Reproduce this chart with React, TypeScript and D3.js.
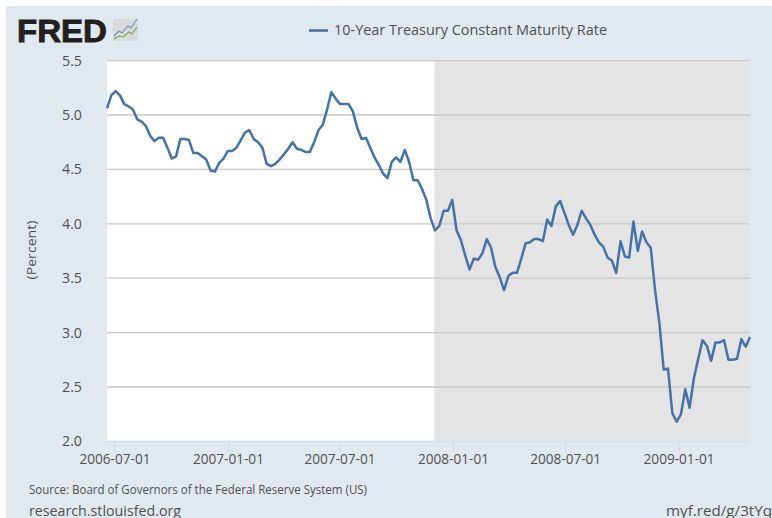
import React from "react";
import * as d3 from "d3";

const firstDate = "2006-06-18";
const rateValues = [
  5.06, 5.18, 5.22, 5.18, 5.1, 5.08, 5.05, 4.96, 4.94, 4.9,
  4.81, 4.76, 4.79, 4.79, 4.7, 4.6, 4.62, 4.78, 4.78, 4.77,
  4.65, 4.65, 4.62, 4.59, 4.49, 4.48, 4.56, 4.6, 4.67, 4.67,
  4.7, 4.77, 4.84, 4.86, 4.78, 4.75, 4.7, 4.55, 4.53, 4.55,
  4.59, 4.64, 4.69, 4.75, 4.69, 4.68, 4.66, 4.66, 4.75, 4.86,
  4.91, 5.05, 5.21, 5.15, 5.1, 5.1, 5.1, 5.03, 4.88, 4.78,
  4.79, 4.7, 4.61, 4.54, 4.46, 4.42, 4.57, 4.61, 4.57, 4.68,
  4.57, 4.4, 4.4, 4.32, 4.22, 4.05, 3.94, 3.98, 4.12, 4.12,
  4.22, 3.94, 3.85, 3.71, 3.58, 3.68, 3.67, 3.73, 3.86, 3.78,
  3.6, 3.51, 3.39, 3.52, 3.55, 3.55, 3.68, 3.82, 3.83, 3.86,
  3.86, 3.84, 4.04, 3.98, 4.16, 4.21, 4.1, 3.99, 3.9, 3.99,
  4.12, 4.05, 3.99, 3.9, 3.83, 3.79, 3.69, 3.66, 3.55, 3.84,
  3.7, 3.69, 4.02, 3.75, 3.93, 3.83, 3.78, 3.39, 3.09, 2.66,
  2.67, 2.26, 2.18, 2.25, 2.48, 2.31, 2.58, 2.76, 2.93, 2.88,
  2.74, 2.91, 2.91, 2.93, 2.75, 2.75, 2.76, 2.94, 2.87, 2.96,
];
const yTicks = [2.0, 2.5, 3.0, 3.5, 4.0, 4.5, 5.0, 5.5];
const xTickLabels = ["2006-07-01", "2007-01-01", "2007-07-01", "2008-01-01", "2008-07-01", "2009-01-01"];
const recessionStart = "2007-12-01";
const seriesName = "10-Year Treasury Constant Maturity Rate";
const sourceText = "Source: Board of Governors of the Federal Reserve System (US)";
const siteText = "research.stlouisfed.org";
const linkText = "myf.red/g/3tYq";
const yLabel = "(Percent)";

const font = "'Open Sans', sans-serif";
const textFill = "#505050";
const parse = d3.utcParse("%Y-%m-%d");
const start = parse(firstDate) as Date;
const dates = rateValues.map((_, i) => d3.utcDay.offset(start, i * 7));

const left = 107, right = 750, top = 60.6, bottom = 441.4;
const x = d3.scaleUtc().domain([dates[0], dates[dates.length - 1]]).range([left, right]);
const y = d3.scaleLinear().domain([2, 5.5]).range([bottom, top]);

const linePath = d3.line<number>().x((_, i) => x(dates[i])).y((d) => y(d))(rateValues) as string;

export default function App() {
  const recX = x(parse(recessionStart) as Date);
  return (
    <svg width={772} height={518} style={{ position: "absolute", left: 0, top: 0, display: "block" }}>
      <rect width={772} height={518} fill="#fff" />
      <rect x={6} y={6} width={766} height={512} fill="#e1e9f0" />
      <rect x={left} y={top} width={right - left} height={bottom - top} fill="#fff" />
      <rect x={recX} y={top} width={right - recX} height={bottom - top} fill="#e4e4e4" />
      {yTicks.map((t) => (
        <g key={t}>
          {t > 2 && <line x1={left} x2={right} y1={y(t)} y2={y(t)} stroke="#c9c9c9" strokeWidth={1.3} />}
          <text x={82} y={y(t) + 5} textAnchor="end" fontFamily={font} fontSize={14} fill={textFill} textLength={20} lengthAdjust="spacingAndGlyphs">
            {t.toFixed(1)}
          </text>
        </g>
      ))}
      <line x1={left} x2={right} y1={bottom} y2={bottom} stroke="#d3dfeb" strokeWidth={1.5} />
      {xTickLabels.map((t) => {
        const px = x(parse(t) as Date);
        return (
          <g key={t}>
            <line x1={px} x2={px} y1={bottom} y2={bottom + 11} stroke="#c9d8e8" strokeWidth={1} />
            <text x={px} y={464} textAnchor="middle" fontFamily={font} fontSize={14} fill={textFill} textLength={71} lengthAdjust="spacingAndGlyphs">
              {t}
            </text>
          </g>
        );
      })}
      <path d={linePath} fill="none" stroke="#4572a7" strokeWidth={2.5} strokeLinejoin="round" />
      <text transform="translate(36,250) rotate(-90)" textAnchor="middle" fontFamily={font} fontSize={13} fill={textFill} textLength={59} lengthAdjust="spacingAndGlyphs">
        {yLabel}
      </text>
      <line x1={309} x2={328} y1={30.5} y2={30.5} stroke="#4572a7" strokeWidth={2.6} />
      <text x={334} y={35} fontFamily={font} fontSize={15} fontWeight={500} fill={textFill} textLength={273} lengthAdjust="spacingAndGlyphs">
        {seriesName}
      </text>
      <text x={29} y={494} fontFamily={font} fontSize={11.7} fill={textFill} textLength={338} lengthAdjust="spacingAndGlyphs">
        {sourceText}
      </text>
      <text x={29} y={515.5} fontFamily={font} fontSize={14} fill={textFill} textLength={152} lengthAdjust="spacingAndGlyphs">
        {siteText}
      </text>
      <text x={666} y={515.5} fontFamily={font} fontSize={14} fill={textFill} textLength={106} lengthAdjust="spacingAndGlyphs">
        {linkText}
      </text>
      <text x={17} y={41.5} fontFamily="'Liberation Sans', Arial, sans-serif" fontSize={32} fontWeight={700} fill="#231f20" stroke="#231f20" strokeWidth={0.9} textLength={90} lengthAdjust="spacingAndGlyphs">
        FRED
      </text>
      <rect x={113} y={19} width={25} height={22} fill="#d8dbdc" rx={1} />
      <polyline points="114,36 119,31 122,33 128,26 131,28 137,19" fill="none" stroke="#6a8db5" strokeWidth={1.1} />
      <polyline points="114,39 119,36 123,37 129,32 132,34 137,27" fill="none" stroke="#7fa04f" strokeWidth={1.1} />
    </svg>
  );
}
